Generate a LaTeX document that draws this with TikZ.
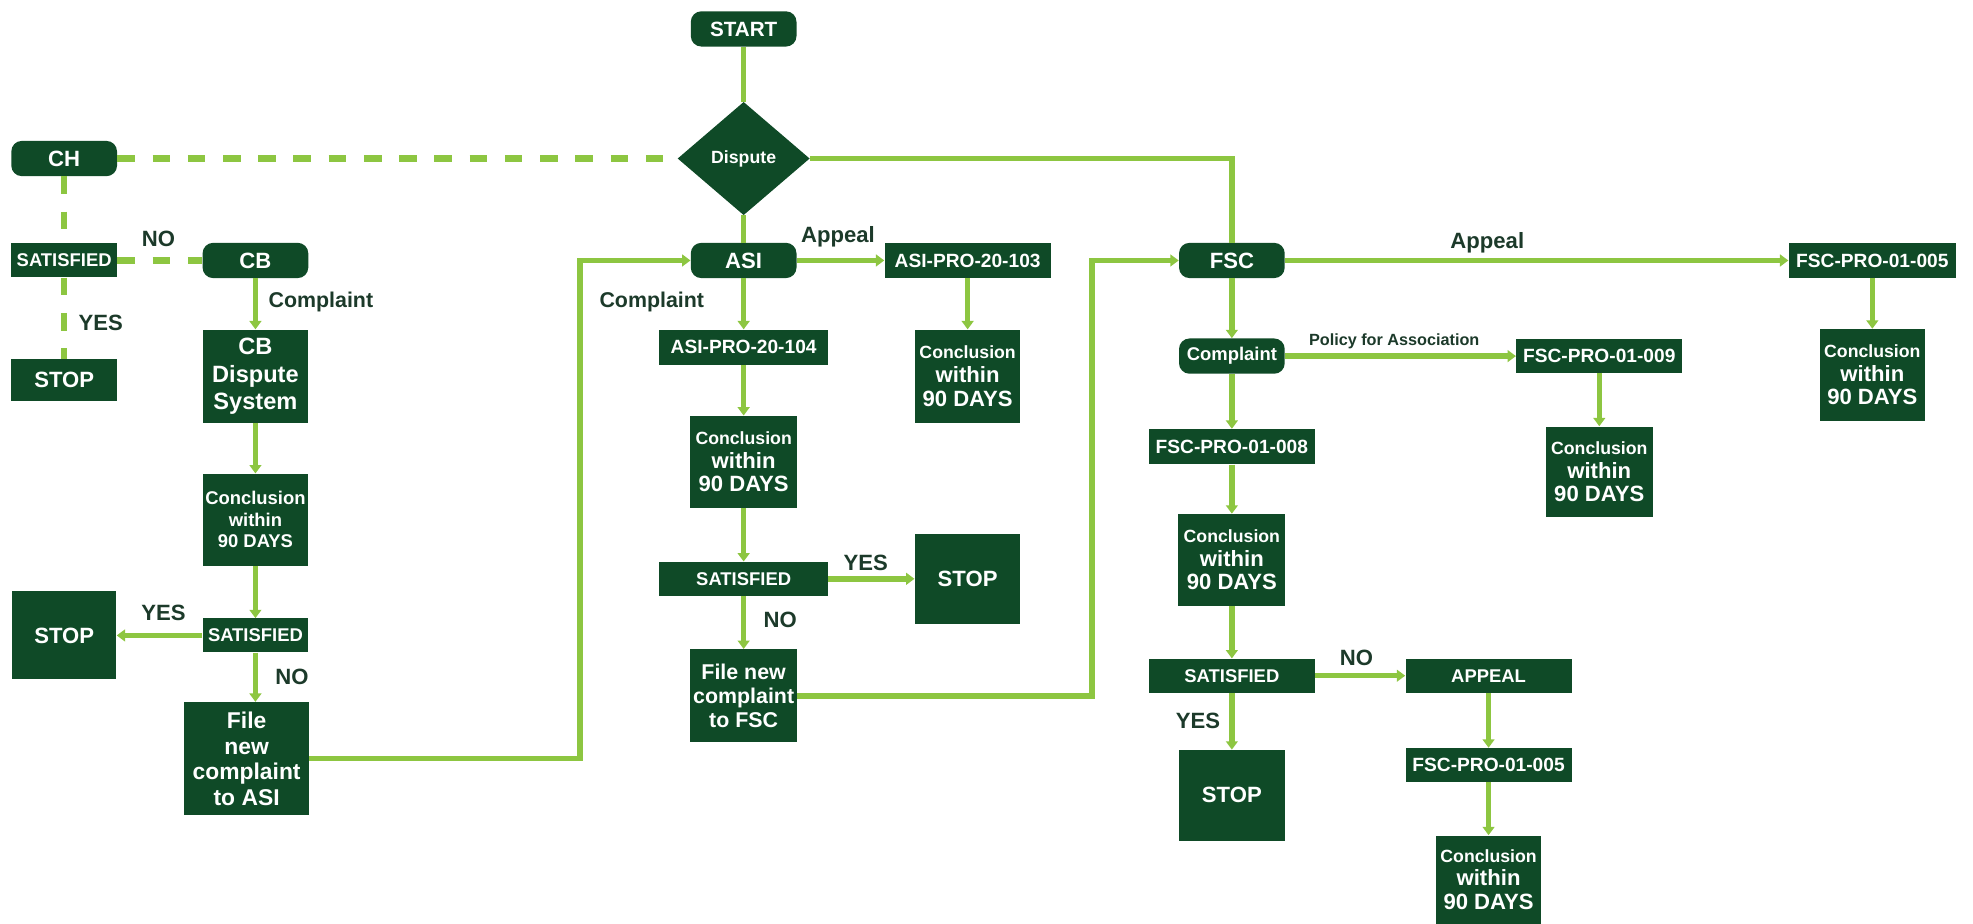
\documentclass[tikz,border=0pt]{standalone}
\usepackage{fontspec}
\setmainfont{Liberation Sans}
\usetikzlibrary{shapes.geometric,arrows.meta}

\definecolor{boxgreen}{HTML}{0F4A27}
\definecolor{linegreen}{HTML}{8DC641}
\definecolor{labelgreen}{HTML}{1C3A2A}

\newcommand{\fsz}[1]{\fontsize{#1}{16}\selectfont}
\newcommand{\conclusiontext}{\fsz{12}Conclusion\\within\\90 DAYS}

\tikzset{
  box/.style={fill=boxgreen, text=white, inner sep=0pt, align=center},
  rbox/.style={box, rounded corners=2.5mm},
  fs/.style={font=\bfseries\fsz{#1}},
  wh/.style 2 args={minimum width=#1*0.3mm, minimum height=#2*0.3mm},
  lbl/.style={text=labelgreen, inner sep=0pt},
  link/.style={draw=linegreen, line width=3.7pt},
  flow/.style={link, -{Triangle[length=2mm,width=2.8mm]}},
  dashlink/.style={draw=linegreen, line width=4.5pt, dash pattern=on 4.2mm off 4.2mm},
}

\begin{document}
\begin{tikzpicture}[x=0.3mm, y=-0.3mm]
\useasboundingbox (0,0) rectangle (1568,734);

% start and dispute
\node[rbox, fs=14, wh={84}{28}] (start) at (591,23) {START};
\node[box, fs=12, diamond, wh={105}{90}] (dispute) at (591,126) {Dispute};

% CH / CB branch
\node[rbox, fs=15, wh={84}{28}] (ch) at (51,126) {CH};
\node[box, fs=12.5, wh={84}{27}] (sat1) at (51,207) {SATISFIED};
\node[box, fs=15, wh={84}{33}] (stop1) at (51,302) {STOP};
\node[rbox, fs=15, wh={84}{28}] (cb) at (203,207) {CB};
\node[box, font=\bfseries\fontsize{16}{18.5}\selectfont, wh={84}{74}] (cbsys) at (203,299) {CB\\Dispute\\System};
\node[box, font=\bfseries\fontsize{12.5}{14.5}\selectfont, wh={84}{73}] (cbconcl) at (203,413) {Conclusion\\within\\90 DAYS};
\node[box, fs=12.5, wh={84}{27}] (sat2) at (203,505) {SATISFIED};
\node[box, fs=15, wh={83}{70}] (stop2) at (51,505) {STOP};
\node[box, font=\bfseries\fontsize{15.5}{17.5}\selectfont, wh={99}{90}] (fileasi) at (196,603) {File\\new\\complaint\\to ASI};

% ASI branch
\node[rbox, fs=15, wh={84}{28}] (asi) at (591,207) {ASI};
\node[box, fs=13, wh={132}{28}] (asi103) at (769,207) {ASI-PRO-20-103};
\node[box, fs=15, wh={84}{74}] (asiappconcl) at (769,299) {\conclusiontext};
\node[box, fs=13, wh={134}{28}] (asi104) at (591,276) {ASI-PRO-20-104};
\node[box, fs=15, wh={85}{73}] (asiconcl) at (591,367) {\conclusiontext};
\node[box, fs=12.5, wh={134}{27}] (sat3) at (591,460) {SATISFIED};
\node[box, fs=15, wh={84}{72}] (stop3) at (769,460) {STOP};
\node[box, font=\bfseries\fontsize{14.5}{16.5}\selectfont, wh={85}{74}] (filefsc) at (591,553) {File new\\complaint\\to FSC};

% FSC branch
\node[rbox, fs=15, wh={84}{28}] (fsc) at (979,207) {FSC};
\node[box, fs=13, wh={133}{28}] (fsc005a) at (1488,207) {FSC-PRO-01-005};
\node[box, fs=15, wh={84}{73}] (conclapp) at (1488,298) {\conclusiontext};
\node[rbox, fs=12.5, wh={84}{28}] (fsccompl) at (979,283) {Complaint};
\node[box, fs=13, wh={132}{27}] (fsc009) at (1271,283) {FSC-PRO-01-009};
\node[box, fs=15, wh={85}{72}] (conclpol) at (1271,375) {\conclusiontext};
\node[box, fs=13, wh={132}{28}] (fsc008) at (979,355) {FSC-PRO-01-008};
\node[box, fs=15, wh={85}{73}] (fscconcl) at (979,445) {\conclusiontext};
\node[box, fs=12.5, wh={132}{27}] (sat4) at (979,537) {SATISFIED};
\node[box, fs=15, wh={84}{72}] (stop4) at (979,632) {STOP};
\node[box, fs=12.5, wh={132}{27}] (appeal) at (1183,537) {APPEAL};
\node[box, fs=13, wh={132}{27}] (fsc005b) at (1183,608) {FSC-PRO-01-005};
\node[box, fs=15, wh={84}{70}] (fscconclb) at (1183,699) {\conclusiontext};

% labels
\node[lbl, fs=15] (lno1) at (126,190) {NO};
\node[lbl, fs=15] (lyes1) at (80,257) {YES};
\node[lbl, fs=14.5] (lcompl1) at (255,240) {Complaint};
\node[lbl, fs=15] (lyes2) at (130,487) {YES};
\node[lbl, fs=15] (lno2) at (232,538) {NO};
\node[lbl, fs=15] (lappeal1) at (666,188) {Appeal};
\node[lbl, fs=14.5] (lcompl2) at (518,240) {Complaint};
\node[lbl, fs=15] (lyes3) at (688,447) {YES};
\node[lbl, fs=15] (lno3) at (620,493) {NO};
\node[lbl, fs=15] (lappeal2) at (1182,193) {Appeal};
\node[lbl, fs=11] (lpolicy) at (1108,271) {Policy for Association};
\node[lbl, fs=15] (lno4) at (1078,523) {NO};
\node[lbl, fs=15] (lyes4) at (952,573) {YES};

% dashed CH links
\draw[dashlink] (ch) -- (dispute);
\draw[dashlink] (ch) -- (sat1);
\draw[dashlink] (sat1) -- (cb);
\draw[dashlink] (sat1) -- (stop1);

% plain links
\draw[link] (start) -- (dispute);
\draw[link] (dispute) -- (asi);
\draw[link] (dispute.east) -| (fsc.north);

% CB flow
\draw[flow] (cb) -- (cbsys);
\draw[flow] (cbsys) -- (cbconcl);
\draw[flow] (cbconcl) -- (sat2);
\draw[flow] (sat2) -- (stop2);
\draw[flow] (sat2.south) -- (sat2.south |- fileasi.north);
\coordinate (asiturn) at (461,0);
\draw[flow] (fileasi.east) -| (asiturn |- asi.west) -- (asi.west);

% ASI flow
\draw[flow] (asi) -- (asi103);
\draw[flow] (asi103) -- (asiappconcl);
\draw[flow] (asi) -- (asi104);
\draw[flow] (asi104) -- (asiconcl);
\draw[flow] (asiconcl) -- (sat3);
\draw[flow] (sat3) -- (stop3);
\draw[flow] (sat3) -- (filefsc);
\coordinate (fscturn) at (868,0);
\draw[flow] (filefsc.east) -| (fscturn |- fsc.west) -- (fsc.west);

% FSC flow
\draw[flow] (fsc) -- (fsc005a);
\draw[flow] (fsc005a) -- (conclapp);
\draw[flow] (fsc) -- (fsccompl);
\draw[flow] (fsccompl) -- (fsc009);
\draw[flow] (fsc009) -- (conclpol);
\draw[flow] (fsccompl) -- (fsc008);
\draw[flow] (fsc008) -- (fscconcl);
\draw[flow] (fscconcl) -- (sat4);
\draw[flow] (sat4) -- (stop4);
\draw[flow] (sat4) -- (appeal);
\draw[flow] (appeal) -- (fsc005b);
\draw[flow] (fsc005b) -- (fscconclb);
\end{tikzpicture}
\end{document}
